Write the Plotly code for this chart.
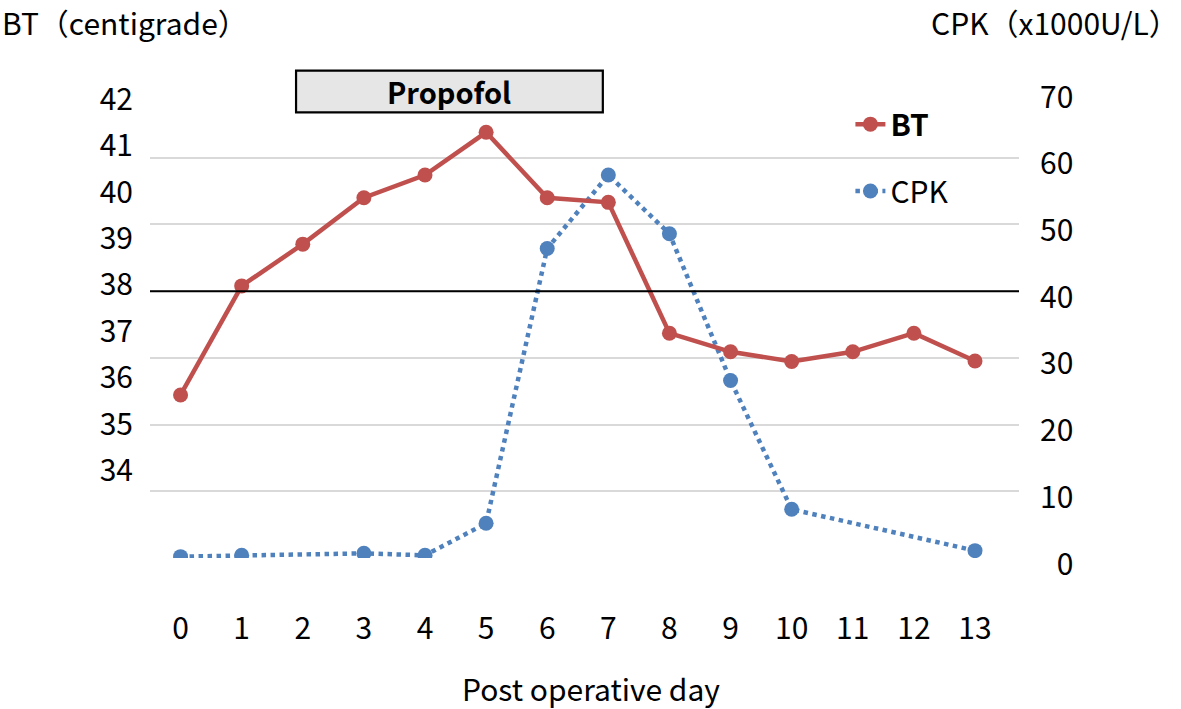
import plotly.graph_objects as go

# ---- data ----
days = list(range(14))
day_labels = [str(d) for d in days]
bt_values = [35.63, 37.98, 38.88, 39.88, 40.37, 41.29, 39.88, 39.78, 36.96, 36.56, 36.35, 36.56, 36.96, 36.36]
cpk_days = [0, 1, 3, 4, 5, 6, 7, 8, 9, 10, 13]
cpk_values = [0.2, 0.4, 0.7, 0.4, 5.2, 46.4, 57.4, 48.6, 26.6, 7.3, 1.1]
bt_ticks = [34, 35, 36, 37, 38, 39, 40, 41, 42]
cpk_ticks = [0, 10, 20, 30, 40, 50, 60, 70]
cpk_ticktext = ["\u20070", "10", "20", "30", "40", "50", "60", "70"]
threshold_cpk = 40
propofol_days = (1.89, 6.91)

FONT = "Noto Sans CJK JP"
RED = "#C0504D"
BLUE = "#4F81BD"
FS = 30

fig = go.Figure()
fig.add_trace(go.Scatter(
    x=cpk_days, y=cpk_values, name="CPK", yaxis="y", mode="lines+markers",
    line=dict(color=BLUE, width=4.5, dash="dot"), marker=dict(size=15, color=BLUE),
    legend="legend2",
))
fig.add_trace(go.Scatter(
    x=days, y=bt_values, name="<b>BT</b>", yaxis="y2", mode="lines+markers",
    line=dict(color=RED, width=4.5), marker=dict(size=15, color=RED),
    legend="legend",
))

fig.update_layout(
    width=1181, height=709,
    margin=dict(l=150, r=162, t=91, b=151),
    paper_bgcolor="white", plot_bgcolor="white",
    font=dict(family=FONT, size=FS, color="black"),
    xaxis=dict(range=[-0.5, 13.72], tickvals=days, ticktext=day_labels,
               showgrid=False, zeroline=False, showline=False, ticks="",
               ticklabelstandoff=50, tickfont=dict(size=FS)),
    yaxis=dict(range=[0, 70], tickvals=cpk_ticks, ticktext=cpk_ticktext,
               side="right", showgrid=True,
               gridcolor="#D9D9D9", gridwidth=1.6, zeroline=False,
               showline=False, ticks="", ticklabelstandoff=20,
               ticklabelshift=6, tickfont=dict(size=FS)),
    yaxis2=dict(range=[32.116, 42.18], tickvals=bt_ticks, overlaying="y",
                side="left", showgrid=False, zeroline=False, showline=False,
                ticks="", ticklabelstandoff=16, tickfont=dict(size=FS)),
    legend=dict(x=0.806, y=0.929, xanchor="left", yanchor="middle",
                bgcolor="rgba(0,0,0,0)", font=dict(size=FS)),
    legend2=dict(x=0.806, y=0.786, xanchor="left", yanchor="middle",
                 bgcolor="rgba(0,0,0,0)", font=dict(size=FS)),
    showlegend=True,
)

fig.add_shape(type="line", xref="paper", yref="y", x0=0, x1=1,
              y0=threshold_cpk, y1=threshold_cpk,
              line=dict(color="#000000", width=2), layer="above")

fig.add_shape(type="rect", xref="x", yref="paper",
              x0=propofol_days[0], x1=propofol_days[1], y0=0.9544, y1=1.0435,
              fillcolor="#E6E6E6", line=dict(color="black", width=2.2), layer="above")
fig.add_annotation(xref="x", yref="paper", x=sum(propofol_days) / 2, y=0.999,
                   text="<b>Propofol</b>", showarrow=False,
                   font=dict(size=29, family=FONT), yanchor="middle")

fig.add_annotation(xref="paper", yref="paper", x=-0.1726, y=1.147, xanchor="left",
                   yanchor="middle", text="BT（centigrade）", showarrow=False,
                   font=dict(size=FS))
fig.add_annotation(xref="paper", yref="paper", x=0.897, y=1.147, xanchor="left",
                   yanchor="middle", text="CPK（x1000U/L）", showarrow=False,
                   font=dict(size=FS))
fig.add_annotation(xref="paper", yref="paper", x=0.5075, y=-0.278, xanchor="center",
                   yanchor="middle", text="Post operative day", showarrow=False,
                   font=dict(size=FS))

fig.write_html("out.html", config={"displayModeBar": False},
               post_script="document.body.style.margin='0';")
